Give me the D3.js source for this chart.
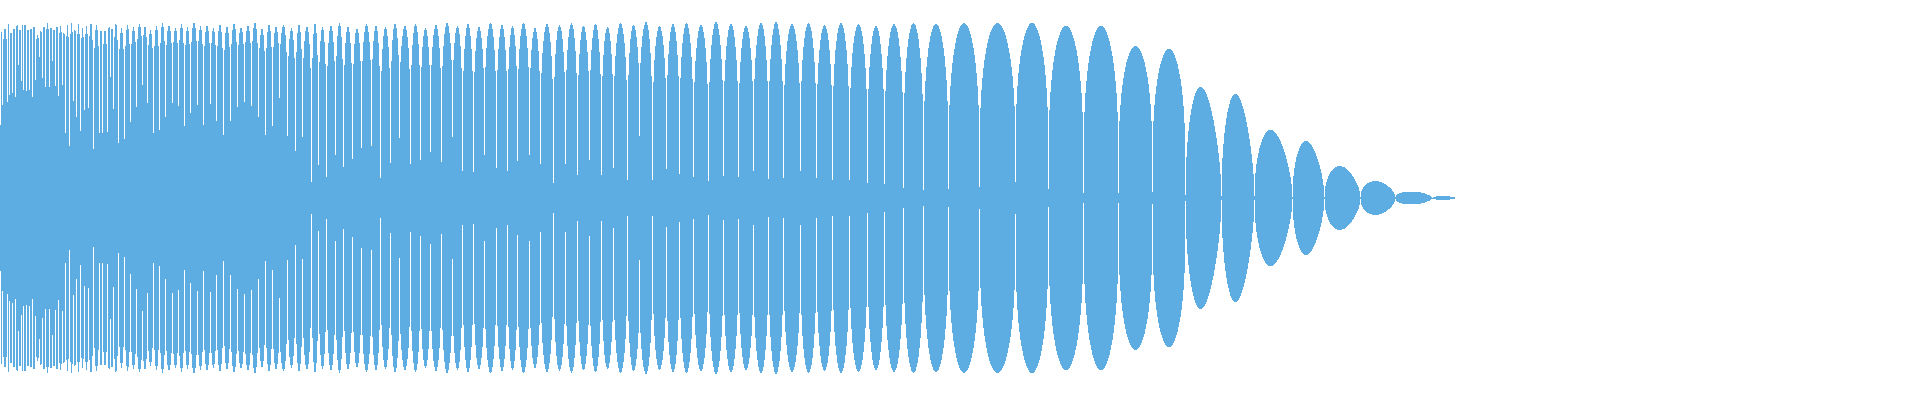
<!DOCTYPE html>
<html><head><meta charset="utf-8">
<script src="https://cdn.jsdelivr.net/npm/d3@7"></script>
<style>html,body{margin:0;padding:0;background:#fff;}svg{display:block;}</style>
</head><body>
<svg id="c" width="1920" height="400"></svg>
<script>
// Trough (zero-crossing) sample positions
const troughX = [0,2,7,9,12,15,18,21,23,26,29,32,35,39,42,45,49,52,55,58,62,65,69,73,76,80,84,88,93,99,
102,107,110,113,118,124,130,136,142,147,153,159,165,172,178,184,190,197,203,210,216,223,230,237,244,251,258,265,272,279,
287,295,302,311,318,326,335,343,352,361,371,380,390,399,410,420,430,441,452,462,473,484,496,507,517,529,540,553,565,577,
589,601,613,627,639,652,666,679,693,708,723,738,753,768,783,800,816,832,849,867,884,903,923,948,979,1015,1048,1083,1118,1152,
1185,1221,1254,1292,1324,1360,1395,1432,1455];
// Amplitude at each trough
const troughAmp = [73,93,96,103,105,101,133,117,108,107,108,101,118,141,120,111,111,137,112,102,113,65,52,97,81,67,88,90,49,65,
65,66,121,89,55,59,76,91,113,95,65,68,81,95,92,72,85,93,73,94,77,63,77,91,96,92,81,63,72,100,
62,47,61,16,33,21,43,31,39,50,52,20,35,60,34,38,46,36,61,27,26,43,30,27,37,43,34,15,34,23,
38,23,30,18,62,18,29,24,21,17,22,21,27,19,20,27,20,18,18,15,14,10,8,9,11,16,9,5,5,6,
3,2,2,1,1,1,1,0,0];
// Peak amplitude of each lobe between consecutive troughs
const peakAmp = [166,170,174,168,172,175,170,173,176,171,
172,174,163,168,173,175,172,170,174,172,
168,173,175,171,174,170,172,176,173,171,
169,174,172,175,170,173,171,174,172,168,
172,175,173,170,174,171,176,172,173,170,
174,172,175,171,173,176,170,174,172,173,
170,174,172,175,171,173,175,172,170,174,
173,171,175,172,174,170,173,175,172,174,
171,175,173,172,175,170,174,173,175,172,
174,171,175,173,176,172,174,175,173,176,
174,172,175,176,174,175,173,175,174,172,
174,175,174,175,175,175,172,172,152,149,
111,104,68,57,32,17,6.5,2];

const W = 1920, H = 400, centerY = 198;
const svg = d3.select("#c");
const x = d3.scaleLinear().domain([0, 1920]).range([0, W]);
const y = d3.scaleLinear().domain([-176, 176]).range([centerY + 176, centerY - 176]);

const cols = [];
for (let i = 0; i < troughX.length - 1; i++) {
  const x0 = troughX[i], x1 = troughX[i + 1], w = x1 - x0;
  const p = peakAmp[i];
  const expo = p > 140 ? 0.3 : 0.6;
  const skew = p > 140 ? 1 : 0.8;
  for (let px = x0; px < x1; px++) {
    let u = (px - x0) / w;
    const base = troughAmp[i] + (troughAmp[i + 1] - troughAmp[i]) * u;
    const us = Math.pow(u, skew);
    const a = base + Math.max(0, p - base) * Math.pow(Math.sin(Math.PI * us), expo);
    cols.push({px, a});
  }
}
svg.append("g").attr("fill", "#5DADE2").attr("shape-rendering", "crispEdges")
  .selectAll("rect").data(cols).join("rect")
  .attr("x", d => x(d.px)).attr("width", x(1) - x(0))
  .attr("y", d => y(d.a)).attr("height", d => Math.max(1, y(-d.a) - y(d.a)));
</script>
</body></html>
